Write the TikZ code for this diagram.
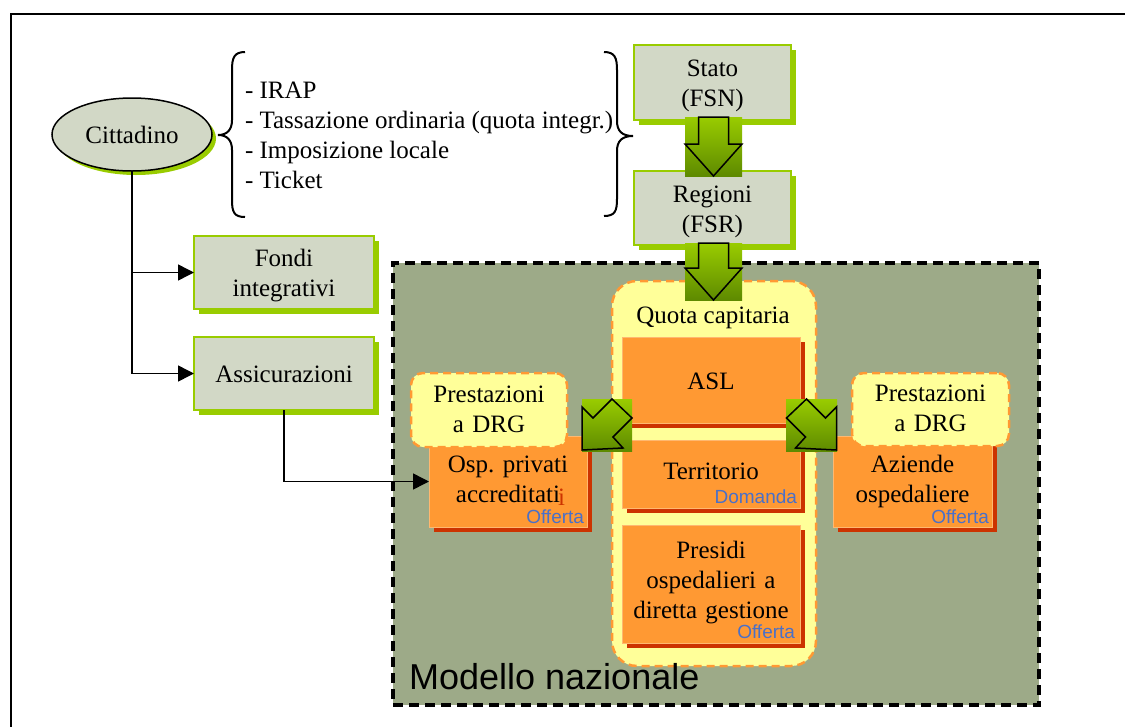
\documentclass[tikz,border=0pt]{standalone}
\usepackage{fontspec}
\setmainfont{Liberation Serif}
\setsansfont{Liberation Sans}
\usetikzlibrary{shapes.geometric,shadows,arrows.meta}

\definecolor{boxgray}{HTML}{D2D8C6}
\definecolor{lgreen}{HTML}{99CC00}
\definecolor{dgreen}{HTML}{5E8A00}
\definecolor{areagreen}{HTML}{9DAA88}
\definecolor{paleyellow}{HTML}{FFFF99}
\definecolor{orangefill}{HTML}{FF9933}
\definecolor{rustred}{HTML}{CC3300}
\definecolor{labelblue}{HTML}{4A70C8}

\tikzset{
  base/.style={font=\fontsize{25}{30}\selectfont, align=center, inner sep=0pt, outer sep=0pt},
  % text block of fixed width; the text box is 24pt high and #2 deep,
  % which places the first baseline relative to the node centre
  lines/.style 2 args={text width=#1, text height=24pt, text depth=#2},
  greybox/.style={base, rectangle, fill=boxgray, draw=lgreen, line width=1.5pt,
    drop shadow={shadow xshift=5pt, shadow yshift=-5pt, fill=lgreen, opacity=1}},
  citizen/.style={base, ellipse, fill=boxgray, draw=black, line width=1.5pt,
    minimum width=160pt, minimum height=73pt, text height=24pt, text depth=6pt,
    drop shadow={shadow xshift=4pt, shadow yshift=-4pt, fill=lgreen, opacity=1}},
  orangebox/.style={base, rectangle, fill=orangefill, draw=orangefill!70!white, line width=0.8pt,
    drop shadow={shadow xshift=5pt, shadow yshift=-5pt, fill=rustred, opacity=1}},
  pale/.style={base, rectangle, rounded corners=#1, fill=paleyellow, draw=orangefill,
    line width=2.5pt, dash pattern=on 8pt off 5pt},
  area/.style={rectangle, fill=areagreen, draw=black, line width=3.5pt,
    dash pattern=on 10pt off 6pt, inner sep=0pt, outer sep=0pt},
  gbox/.style={rectangle, inner sep=0pt, outer sep=0pt, top color=lgreen, bottom color=dgreen, draw=none},
  arrowline/.style={draw=black, line width=1.5pt, line join=miter},
  conn/.style={draw=black, line width=1.5pt, -{Triangle[length=16pt,width=16pt]}},
  bracket/.style={draw=black, line width=2pt},
  tag/.style={font=\sffamily\fontsize{19}{22}\selectfont, text=labelblue, inner sep=0pt, outer sep=0pt}
}

\begin{document}
\begin{tikzpicture}[x=1pt,y=-1pt]
\useasboundingbox (0,0) rectangle (1125,726);

% page frame
\draw[line width=2.5pt] (11,727) -- (11,14) -- (1126,14);

% citizen and the taxes list
\node[citizen] (citt) at (132,134.5) {Cittadino};

\draw[bracket] (245,52) .. controls (234,52) and (232,58) .. (232,70) -- (232,120)
  .. controls (232,130) and (227,135) .. (218,135)
  .. controls (227,135) and (232,140) .. (232,150) -- (232,200)
  .. controls (232,212) and (234,217) .. (245,217);
\draw[bracket] (604,52) .. controls (615,52) and (617,58) .. (617,70) -- (617,121)
  .. controls (617,131) and (622,136) .. (633,136)
  .. controls (622,136) and (617,141) .. (617,151) -- (617,199)
  .. controls (617,211) and (615,216) .. (604,216);

\node[base, align=left, anchor=west] (taxes) at (245,135.5)
  {- IRAP\\- Tassazione ordinaria (quota integr.)\\- Imposizione locale\\- Ticket};

% funding chain
\node[greybox, lines={157pt}{36pt}, minimum width=157pt, minimum height=75pt] (stato) at (712.5,82.5) {Stato\\(FSN)};
\node[greybox, lines={157pt}{36pt}, minimum width=157pt, minimum height=74pt] (regioni) at (712.5,208) {Regioni\\(FSR)};

% private channels
\node[greybox, lines={180pt}{36pt}, minimum width=180pt, minimum height=73pt] (fondi) at (284,272.5) {Fondi\\integrativi};
\node[greybox, lines={180pt}{6pt}, minimum width=180pt, minimum height=73pt] (assic) at (284,373.5) {Assicurazioni};

% national model area
\node[area, minimum width=646pt, minimum height=442pt] (modello) at (716,484) {};

\node[pale=25pt, minimum width=204pt, minimum height=385pt] (quota) at (714,473.5) {};
\node[base, anchor=base] (quotalabel) at (713,323) {Quota capitaria};

\node[anchor=base west, inner sep=0pt, font=\sffamily\fontsize{36}{40}\selectfont]
  (modlabel) at (409,689) {Modello nazionale};

% ASL column
\node[orangebox, lines={178pt}{6pt}, minimum width=178pt, minimum height=86pt] (asl) at (711,380) {ASL};
\node[orangebox, lines={178pt}{14pt}, minimum width=178pt, minimum height=68pt] (terr) at (711,474) {Territorio};
\node[tag, anchor=base east] (dom) at (797,503) {Domanda};
\node[orangebox, lines={178pt}{76pt}, minimum width=178pt, minimum height=118pt] (pres) at (711,584)
  {Presidi\\ospedalieri a\\diretta gestione};
\node[tag, anchor=base east] (offp) at (795,638) {Offerta};

% private accredited hospitals
\node[orangebox, lines={158pt}{43pt}, minimum width=158pt, minimum height=91pt] (osp) at (508,481.5) {Osp.\ privati\\accreditati};
\node[base, text=rustred, anchor=base west] (stray) at (558,505) {i};
\node[tag, anchor=base east] (offo) at (584,523) {Offerta};
\node[pale=12pt, lines={156pt}{40pt}, minimum width=156pt, minimum height=74pt] (drgl) at (489,410) {Prestazioni\\a DRG};

% hospital trusts
\node[orangebox, lines={159pt}{43pt}, minimum width=159pt, minimum height=91pt] (azi) at (912.5,481.5) {Aziende\\ospedaliere};
\node[tag, anchor=base east] (offa) at (989,523) {Offerta};
\node[pale=12pt, lines={157pt}{40pt}, minimum width=157pt, minimum height=73pt] (drgr) at (930.5,409.5) {Prestazioni\\a DRG};

% green block arrows
\node[gbox, minimum width=57pt, minimum height=59pt] (down1) at (713.5,146.5) {};
\draw[arrowline, shift={(down1.center)}] (-15,-29.5) -- (-15,-2.5) -- (-28.5,-2.5) -- (0,29.5)
  -- (28.5,-2.5) -- (15,-2.5) -- (15,-29.5) -- cycle;
\node[gbox, minimum width=57pt, minimum height=57pt] (down2) at (713.5,271.5) {};
\draw[arrowline, shift={(down2.center)}] (-15,-28.5) -- (-15,-3.5) -- (-28.5,-3.5) -- (0,28.5)
  -- (28.5,-3.5) -- (15,-3.5) -- (15,-28.5) -- cycle;

\node[gbox, minimum width=50pt, minimum height=52pt] (diagl) at (607,425) {};
\draw[arrowline, shift={(diagl.center)}] (-25,25) -- (-25,-18) -- (-14,-7) -- (5,-26)
  -- (25,-7) -- (6,12) -- (16,23) -- cycle;
\node[gbox, minimum width=51pt, minimum height=52pt] (diagr) at (811.5,425) {};
\draw[arrowline, shift={(diagr.center)}] (25,25) -- (25,-18) -- (14,-7) -- (-5,-26)
  -- (-25,-7) -- (-6,12) -- (-16,23) -- cycle;

% connectors
\draw[conn] (citt.south) |- (fondi.west);
\draw[conn] (citt.south) |- (assic.west);
\draw[conn] (assic.south) |- (osp.west);

\end{tikzpicture}
\end{document}
